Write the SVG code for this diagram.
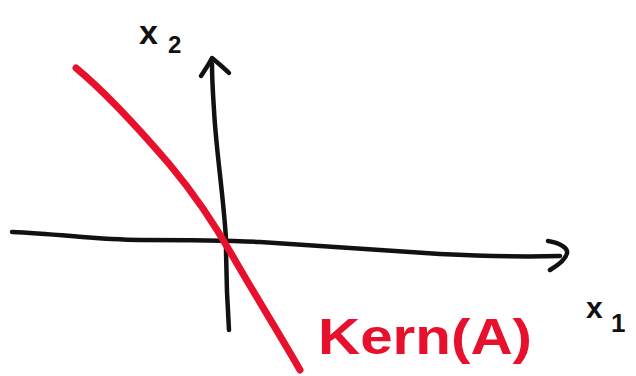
<svg xmlns="http://www.w3.org/2000/svg" width="636" height="376" viewBox="0 0 636 376">
<style>
.ax{fill:none;stroke:#111;stroke-width:4.5;stroke-linecap:round;stroke-linejoin:round}
.kern{fill:none;stroke:#e8112d;stroke-width:7;stroke-linecap:round}
.lbl{font-family:"Liberation Sans",Arial,sans-serif;fill:#111;font-weight:bold}
.red{font-family:"Liberation Sans",Arial,sans-serif;fill:#e8112d;font-weight:bold}
</style>
<rect width="636" height="376" fill="#fff"/>
<g id="connectors">
<path id="x1-axis" class="ax" d="M12,232 C60,234 100,240 140,240 C180,240 220,240 260,242 C320,246 380,250 440,254 C480,256 520,257 560,256"/>
<path id="x1-head" class="ax" d="M548,241 C560,243 568,248 567,253 C566,259 560,264 550,270"/>
<path id="x2-axis" class="ax" d="M229,330 C227,300 226,270 226,240 C224,200 216,150 214,110 C213,95 212,80 212,64"/>
<path id="x2-head" class="ax" d="M201,76 C205,70 209,64 212,58 C218,63 224,68 229,73"/>
</g>
<g id="kernel-line">
<path class="kern" d="M76,68 C105,92 140,130 170,165 C195,195 215,225 232,255 C255,295 280,335 300,370"/>
</g>
<g id="label-x2">
<text class="lbl" x="139" y="44" font-size="34">x</text>
<text class="lbl" x="168" y="53" font-size="24">2</text>
</g>
<g id="label-x1">
<text class="lbl" x="586" y="318" font-size="30">x</text>
<text class="lbl" x="611" y="332" font-size="26">1</text>
</g>
<g id="label-kern">
<text class="red" x="318" y="354" font-size="50" textLength="214" lengthAdjust="spacingAndGlyphs">Kern(A)</text>
</g>
</svg>
